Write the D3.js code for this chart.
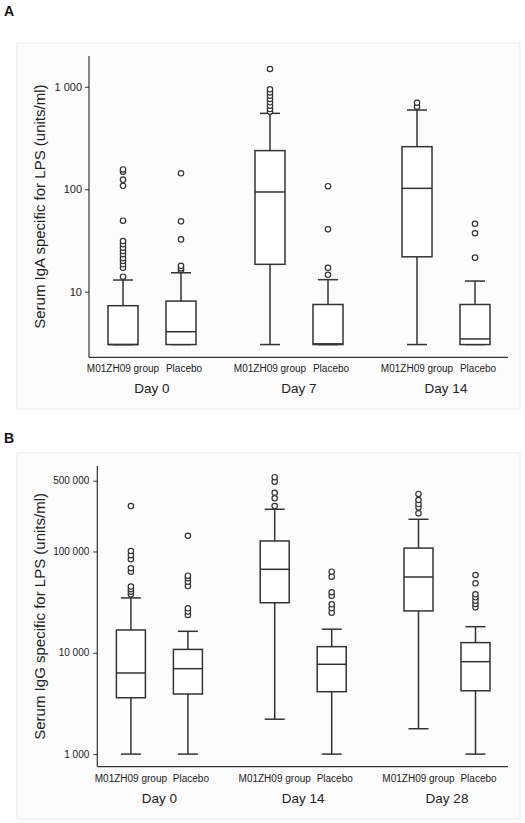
<!DOCTYPE html>
<html><head><meta charset="utf-8">
<script src="https://cdn.jsdelivr.net/npm/d3@7"></script>
<style>
html,body{margin:0;padding:0;background:#fff;}
svg{display:block;font-family:"Liberation Sans",Arial,sans-serif;}
</style></head>
<body>
<svg id="chart" width="525" height="823"></svg>
<script>
// ---------- DATA ----------
const groups = ["M01ZH09 group", "Placebo"];
const daysA = ["Day 0", "Day 7", "Day 14"];
const daysB = ["Day 0", "Day 14", "Day 28"];

// Panel A: serum IgA (box order: Day0 M01, Day0 Placebo, Day7 M01, Day7 Placebo, Day14 M01, Day14 Placebo)
const igaMin    = [3.05, 3.05, 3.05, 3.05, 3.05, 3.05];
const igaQ1     = [3.05, 3.05, 18.5, 3.05, 21.9, 3.05];
const igaMedian = [3.05, 4.07, 94, 3.1, 102, 3.46];
const igaQ3     = [7.3, 8.1, 238, 7.5, 260, 7.5];
const igaMax    = [13.0, 15.3, 550, 13.1, 593, 12.7];
const igaOutliers = [
  [14.0, 17.1, 18.5, 19.9, 21.2, 23.2, 24.9, 26.9, 29, 31.2, 49.3, 108, 124, 148, 156],
  [16.3, 16.9, 17.9, 32.4, 48.6, 143],
  [570, 606, 653, 705, 759, 817, 881, 944, 1489],
  [14.6, 17.1, 40.6, 107],
  [638, 698],
  [21.5, 37.2, 46]
];
const igaTicks = [10, 100, 1000];

// Panel B: serum IgG
const iggMin    = [1000, 1000, 2210, 1000, 1780, 1000];
const iggQ1     = [3600, 3920, 31200, 4130, 25900, 4220];
const iggMedian = [6320, 6970, 66700, 7700, 56000, 8170];
const iggQ3     = [16800, 10800, 127000, 11500, 108000, 12600];
const iggMax    = [34800, 16300, 261000, 17100, 208000, 18100];
const iggOutliers = [
  [37800, 40100, 42400, 45000, 63200, 68300, 83800, 92000, 101000, 281000],
  [23600, 25500, 27500, 45600, 50300, 54400, 57700, 143000],
  [281000, 335000, 380000, 489000, 541000],
  [24900, 27500, 30100, 36600, 39600, 56400, 63200],
  [238000, 273000, 294000, 322000, 370000],
  [28100, 30300, 32700, 35300, 37800, 48500, 58600]
];
const iggTicks = [1000, 10000, 100000, 500000];

const titleA = "Serum IgA specific for LPS (units/ml)";
const titleB = "Serum IgG specific for LPS (units/ml)";

// ---------- DRAW ----------
const svg = d3.select("#chart");
const fmt = d3.formatLocale({decimal: ".", thousands: " ", grouping: [3], currency: ["", ""]}).format(",");
const ink = "#333";
const labelShift = {"M01ZH09 group": 0, "Placebo": 3};

function panel(cfg) {
  const g = svg.append("g");
  // panel background
  g.append("rect").attr("x", cfg.px).attr("y", cfg.py).attr("width", cfg.pw).attr("height", cfg.ph)
    .attr("fill", "#fcfcfc").attr("stroke", "#e9edeb").attr("stroke-width", 1);
  g.append("text").attr("x", 4).attr("y", cfg.labelY).attr("font-size", 14).attr("font-weight", "bold")
    .attr("fill", "#111").text(cfg.label);

  const y = d3.scaleLog().domain(cfg.domain).range([cfg.bottom, cfg.top]);
  const xDay = d3.scalePoint().domain(cfg.days).range(cfg.dayRange);
  const xGrp = d3.scalePoint().domain(groups).range([-cfg.half, cfg.half]);

  // y axis
  const yAxis = d3.axisLeft(y).tickValues(cfg.ticks).tickFormat(fmt).tickSizeOuter(0).tickSize(4).tickPadding(cfg.tickPad);
  const ag = g.append("g").attr("transform", `translate(${cfg.axisX},0)`).call(yAxis);
  ag.select(".domain").remove();
  ag.selectAll(".tick line").attr("stroke", ink).attr("stroke-width", 1);
  ag.selectAll(".tick text").attr("font-size", cfg.tickFont).attr("fill", "#222")
    .attr("font-family", "\"Liberation Sans\",Arial,sans-serif");
  g.append("line").attr("x1", cfg.axisX).attr("x2", cfg.axisX).attr("y1", cfg.top).attr("y2", cfg.bottom)
    .attr("stroke", ink).attr("stroke-width", 1.2);
  g.append("line").attr("x1", cfg.axisX).attr("x2", cfg.axisEnd).attr("y1", cfg.bottom).attr("y2", cfg.bottom)
    .attr("stroke", ink).attr("stroke-width", 1.2);

  // y title
  g.append("text").attr("transform", `translate(${cfg.titleX},${(cfg.top + cfg.bottom) / 2}) rotate(-90)`)
    .attr("text-anchor", "middle").attr("font-size", 15).attr("fill", "#222").text(cfg.title);

  // boxes
  const boxes = [];
  cfg.days.forEach((d, i) => groups.forEach((gr, j) => {
    const k = i * groups.length + j;
    boxes.push({day: d, grp: gr, min: cfg.min[k], q1: cfg.q1[k], med: cfg.med[k], q3: cfg.q3[k], max: cfg.max[k], out: cfg.out[k]});
  }));
  const bw = cfg.boxW, cw = 20;
  boxes.forEach(b => {
    const cx = xDay(b.day) + xGrp(b.grp);
    const bg = g.append("g").attr("stroke", ink).attr("stroke-width", 1.5).attr("fill", "none");
    bg.append("line").attr("x1", cx).attr("x2", cx).attr("y1", y(b.q3)).attr("y2", y(b.max));
    bg.append("line").attr("x1", cx).attr("x2", cx).attr("y1", y(b.q1)).attr("y2", y(b.min));
    bg.append("line").attr("x1", cx - cw / 2).attr("x2", cx + cw / 2).attr("y1", y(b.max)).attr("y2", y(b.max));
    bg.append("line").attr("x1", cx - cw / 2).attr("x2", cx + cw / 2).attr("y1", y(b.min)).attr("y2", y(b.min));
    bg.append("rect").attr("x", cx - bw / 2).attr("width", bw).attr("y", y(b.q3)).attr("height", y(b.q1) - y(b.q3))
      .attr("fill", "#fff");
    bg.append("line").attr("x1", cx - bw / 2).attr("x2", cx + bw / 2).attr("y1", y(b.med)).attr("y2", y(b.med));
    bg.selectAll("circle").data(b.out).join("circle").attr("cx", cx).attr("cy", v => y(v)).attr("r", 2.7)
      .attr("fill", "#fff").attr("stroke-width", 1.2);
    g.append("text").attr("x", cx + labelShift[b.grp]).attr("y", cfg.catY).attr("text-anchor", "middle").attr("font-size", 10)
      .attr("fill", "#222").text(b.grp);
  });
  cfg.days.forEach(d => {
    g.append("text").attr("x", xDay(d)).attr("y", cfg.dayY).attr("text-anchor", "middle").attr("font-size", 13.5)
      .attr("fill", "#222").text(d);
  });
}

panel({
  label: "A", labelY: 16, px: 17, py: 43, pw: 503, ph: 366,
  domain: [2.29, 1995], top: 56, bottom: 357.3, axisX: 89, axisEnd: 508,
  ticks: igaTicks, tickFont: 11, tickPad: 3, titleX: 45,
  days: daysA, dayRange: [152, 446], half: 29, boxW: 30,
  min: igaMin, q1: igaQ1, med: igaMedian, q3: igaQ3, max: igaMax, out: igaOutliers,
  catY: 372, dayY: 393, title: titleA
});
panel({
  label: "B", labelY: 443, px: 17, py: 453, pw: 503, ph: 366,
  domain: [751, 698000], top: 466, bottom: 766.7, axisX: 97.3, axisEnd: 508,
  ticks: iggTicks, tickFont: 10, tickPad: 4, titleX: 45,
  days: daysB, dayRange: [159.4, 447], half: 28.5, boxW: 29,
  min: iggMin, q1: iggQ1, med: iggMedian, q3: iggQ3, max: iggMax, out: iggOutliers,
  catY: 782, dayY: 803, title: titleB
});
</script>
</body></html>
